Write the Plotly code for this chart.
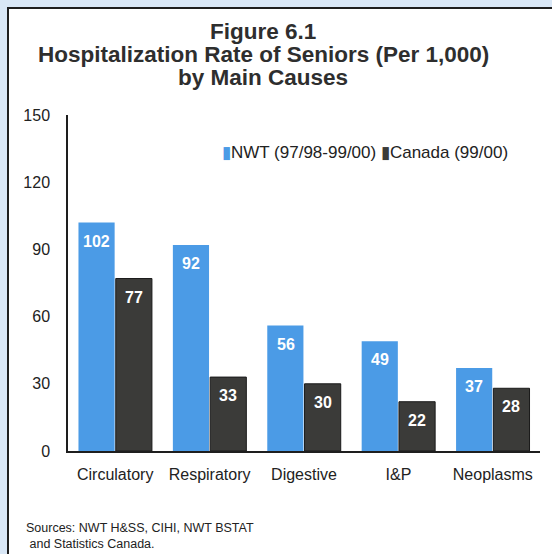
import plotly.graph_objects as go

# chart data
causes = ["Circulatory", "Respiratory", "Digestive", "I&P", "Neoplasms"]
nwt_rate = [102, 92, 56, 49, 37]
canada_rate = [77, 33, 30, 22, 28]
series_names = ["NWT (97/98-99/00)", "Canada (99/00)"]
title_lines = ["Figure 6.1", "Hospitalization Rate of Seniors (Per 1,000)", "by Main Causes"]
source_lines = ["Sources: NWT H&SS, CIHI, NWT BSTAT", " and Statistics Canada."]
y_ticks = [0, 30, 60, 90, 120, 150]

blue = "#4b9be6"
dark = "#3b3b39"
font_name = "Liberation Sans, Arial, sans-serif"

# plot area in pixels (552x554 page)
W, H = 552, 554
L, R, T, B = 68, 12, 115, 103
pw, ph = W - L - R, H - T - B


def px_x(p):
    return (p - L) / pw


def px_y(p):
    return (H - B - p) / ph


fig = go.Figure()
fig.add_trace(go.Bar(x=causes, y=nwt_rate, name=series_names[0],
                     marker=dict(color=blue, line=dict(width=0))))
fig.add_trace(go.Bar(x=causes, y=canada_rate, name=series_names[1],
                     marker=dict(color=dark, line=dict(color="#1a1a1a", width=1))))

annotations = []
# value labels inside bars, near the top
for vals, shift in [(nwt_rate, -18.5), (canada_rate, 18.5)]:
    for c, v in zip(causes, vals):
        annotations.append(dict(x=c, y=v, xref="x", yref="y", text="<b>%d</b>" % v,
                                showarrow=False, xshift=shift, yshift=-8, yanchor="top",
                                font=dict(size=16, color="white", family=font_name)))

# title lines
for line, py in zip(title_lines, [31, 55, 78]):
    annotations.append(dict(x=px_x(263), y=px_y(py), xref="paper", yref="paper",
                            text="<b>%s</b>" % line, showarrow=False,
                            xanchor="center", yanchor="middle",
                            font=dict(size=22.5, color="#2e2e2e", family=font_name)))

# legend row
legend_text = ("<span style='color:%s'>▮</span>%s <span style='color:%s'>▮</span>%s"
               % (blue, series_names[0], dark, series_names[1]))
annotations.append(dict(x=px_x(220), y=px_y(152), xref="paper", yref="paper",
                        text=legend_text, showarrow=False, xanchor="left", yanchor="middle",
                        font=dict(size=17, color="#222222", family=font_name)))

# sources note
annotations.append(dict(x=px_x(24), y=px_y(519), xref="paper", yref="paper",
                        text="<br>".join(source_lines), showarrow=False,
                        xanchor="left", yanchor="top", align="left",
                        font=dict(size=12.5, color="#222222", family=font_name)))

fig.update_layout(
    width=W, height=H,
    margin=dict(l=L, r=R, t=T, b=B, pad=0),
    barmode="group", bargap=0.21, bargroupgap=0.03,
    showlegend=False,
    paper_bgcolor="#d9e7f6", plot_bgcolor="white",
    font=dict(family=font_name, size=16, color="#222222"),
    annotations=annotations,
    shapes=[dict(type="rect", xref="paper", yref="paper", layer="below",
                 x0=px_x(8), x1=px_x(570), y0=px_y(570), y1=px_y(8),
                 fillcolor="white", line=dict(color="#1e1e1e", width=2))],
)
fig.update_yaxes(range=[0, 150], tickvals=y_ticks, showgrid=False, zeroline=False,
                 showline=True, linecolor="#1e1e1e", linewidth=1.5,
                 ticks="", ticklabelstandoff=13, tickfont=dict(size=16))
fig.update_xaxes(showgrid=False, showline=True, linecolor="#1e1e1e", linewidth=1.5,
                 ticks="", ticklabelstandoff=8, tickfont=dict(size=16))

# drop the browser's default body margin so the figure sits at the page corner
fig.write_html("out.html", config={"displayModeBar": False},
               post_script="document.body.style.margin='0px';")
